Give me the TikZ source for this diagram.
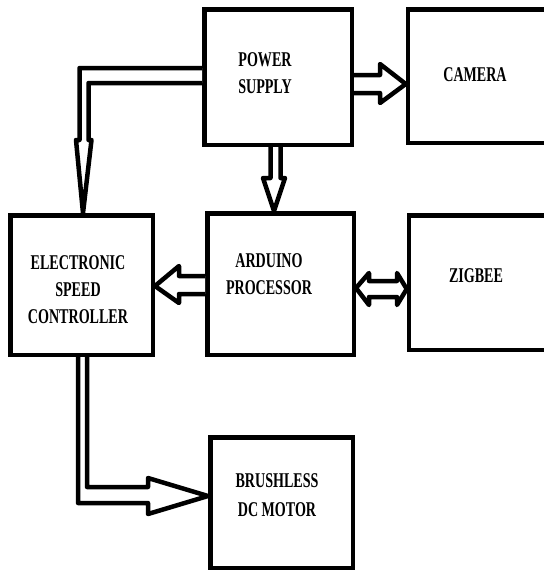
\documentclass[tikz,border=0pt]{standalone}
\usepackage{fontspec}
\setmainfont{Liberation Serif}
\begin{document}
\begin{tikzpicture}[x=1pt,y=-1pt,
 unit/.style={draw,line width=4.5pt,inner sep=0},
 boxtext/.style={font=\bfseries\fontsize{21}{27}\selectfont,align=center,xscale=.67,inner sep=0},
 fatarrow/.style={draw,fill=white,line width=4.5pt,line join=round}]
 \clip (0,0) rectangle (544,571);
 % blocks
 \node[unit,minimum width=147.5pt,minimum height=135.5pt] (ps) at (278,77) {};
 \node[unit,minimum width=150pt,minimum height=133.5pt] (cam) at (483,76) {};
 \node[unit,minimum width=142.5pt,minimum height=139.5pt] (esc) at (81.5,285) {};
 \node[unit,minimum width=146.5pt,minimum height=141.5pt] (ard) at (280.5,284) {};
 \node[unit,minimum width=150pt,minimum height=134.5pt] (zig) at (484,282.5) {};
 \node[unit,minimum width=142.5pt,minimum height=130.5pt] (mot) at (281.5,502.5) {};
 \node[boxtext] (pstext) at (265,73) {POWER\\SUPPLY};
 \node[boxtext] (camtext) at (475,74.5) {CAMERA};
 \node[boxtext] (esctext) at (78,290) {ELECTRONIC\\SPEED\hspace*{23pt}\\CONTROLLER};
 \node[boxtext] (ardtext) at (269,274) {ARDUINO\\PROCESSOR};
 \node[boxtext] (zigtext) at (476,275.5) {ZIGBEE};
 \node[boxtext] (mottext) at (277,495) {BRUSHLESS\\[2pt]DC MOTOR};
 % hollow arrows
 \draw[fatarrow] (ps.east |- 0,75) -- (380,75) -- (380,64) -- (cam.west |- 0,84) -- (380,103) -- (380,93) -- (ps.east |- 0,93);
 \draw[fatarrow] (270.5,0 |- ps.south) -- (270.5,178) -- (263,178) -- (274,0 |- ard.north) -- (285,178) -- (280.5,178) -- (280.5,0 |- ps.south);
 \draw[fatarrow] (ps.west |- 0,68) -- (79.5,68) -- (79.5,140) -- (76,140) -- (83,0 |- esc.north) -- (91.5,140) -- (88.5,140) -- (88.5,83) -- (ps.west |- 0,83);
 \draw[fatarrow] (ard.west |- 0,276) -- (179,276) -- (179,266) -- (esc.east |- 0,286) -- (179,303) -- (179,294) -- (ard.west |- 0,294);
 \draw[fatarrow] (ard.east |- 0,288) -- (369,273) -- (369,281) -- (397,281) -- (397,273) -- (zig.west |- 0,289) -- (397,305) -- (397,297) -- (369,297) -- (369,305) -- cycle;
 \draw[fatarrow] (78,0 |- esc.south) -- (78,503) -- (148,503) -- (148,514) -- (mot.west |- 0,496) -- (148,478) -- (148,487) -- (87,487) -- (87,0 |- esc.south);
\end{tikzpicture}
\end{document}
